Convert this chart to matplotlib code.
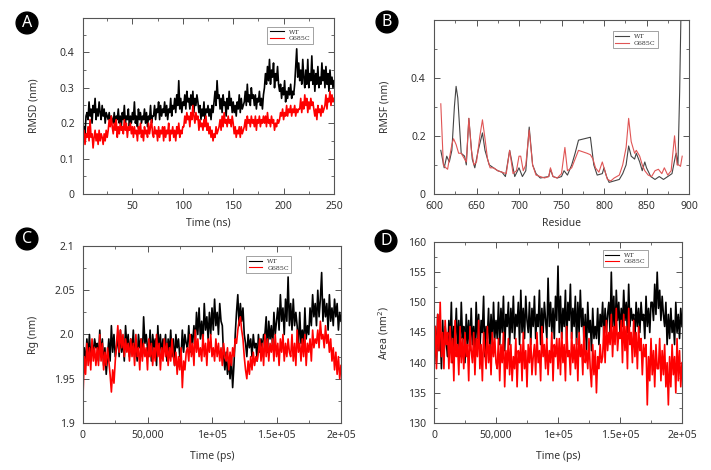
import numpy as np
import matplotlib
matplotlib.use('Agg')
import matplotlib.pyplot as plt
from matplotlib.ticker import MultipleLocator

plt.rcParams['font.family'] = ['Noto Sans', 'DejaVu Sans']
plt.rcParams['text.color'] = '#333333'
plt.rcParams['axes.labelcolor'] = '#333333'
plt.rcParams['xtick.color'] = '#555555'
plt.rcParams['ytick.color'] = '#555555'
plt.rcParams['xtick.labelcolor'] = '#333333'
plt.rcParams['ytick.labelcolor'] = '#333333'

# ---- panel A: RMSD (hundredths of nm), one sample per ns
rmsd_wt = np.array([
    15, 19, 17, 22,
    23, 21, 26, 22, 24, 20, 25, 23, 27, 21, 24, 22, 26, 23, 21, 25, 22, 24, 20, 23, 22,
    21, 23, 20, 22, 21,
    20, 23, 19, 22, 21, 24, 20, 22, 19, 23, 21, 25, 20, 22, 21, 24, 19, 22, 20, 23,
    21, 26, 20, 22, 19, 24, 21, 23, 20, 22, 21, 24, 20, 23, 19, 22, 21, 25, 20, 22,
    22, 25, 21, 24, 23, 26, 21, 25, 22, 24, 23, 26, 22, 25, 21, 24, 23, 27, 22, 25,
    24, 27, 23, 28, 25, 32, 24, 27, 23, 26,
    25, 28, 24, 29, 26, 27, 24, 28, 25, 29, 23, 27, 25, 28, 26,
    23, 25, 21, 24, 22, 26, 21, 24, 23, 25, 22, 24, 21, 25, 23,
    26, 29, 25, 32, 27, 28,
    24, 27, 23, 28, 25, 26, 22, 27, 24, 29, 25, 27, 23, 26,
    23, 25, 22, 26, 24, 28, 23, 27, 24, 25,
    26, 29, 25, 31, 26, 28, 25, 30, 27, 28,
    25, 28, 24, 27, 26, 29, 25, 27, 24, 28,
    30, 34, 31, 36, 32, 38, 31, 35, 33, 37, 30, 34, 32, 36, 31,
    29, 31, 27, 30, 28, 32, 26, 29, 27, 30, 28, 31, 27, 29, 28,
    31, 36, 41, 33, 37, 32, 35, 31, 38, 33,
    30, 35, 31, 38, 30, 34, 32, 39, 31, 35, 29, 34, 31, 36, 30,
    33, 31, 37, 32, 35, 30, 36, 31, 34, 29, 35, 31, 33, 30, 32]) / 100
rmsd_mut = np.array([
    15, 18, 14, 17, 16, 19, 15, 21, 16, 17, 13, 16, 18, 15, 17, 14, 18, 15, 17, 16, 14, 17, 15, 18, 16,
    18, 21, 19, 22, 19,
    17, 20, 18, 21, 16, 19, 17, 20, 18, 19, 17, 21, 18, 20, 16, 19, 18, 20, 17, 19,
    16, 19, 17, 18, 15, 19, 17, 20, 16, 18, 15, 19, 17, 18, 16, 20, 17, 19, 21, 17,
    16, 19, 17, 18, 15, 19, 16, 18, 17, 19,
    15, 19, 16, 18, 17, 20, 15, 18, 17, 19, 16, 18, 15, 19, 17, 20, 16, 18, 17, 19,
    19, 22, 20, 23, 21, 22, 19, 23, 21, 25, 22, 20, 23, 21, 22,
    18, 21, 19, 20, 18, 21, 19, 22, 18, 20,
    17, 19, 16, 18, 15, 17, 16, 19, 17, 18,
    19, 21, 18, 22, 19, 23, 20, 21, 19, 22, 20, 21, 19, 22, 20,
    17, 19, 16, 18, 17, 19, 16, 19, 17, 18,
    19, 21, 18, 22, 20, 21, 19, 22, 20, 21, 19, 22, 18, 21, 20, 22, 19, 21, 20, 22,
    20, 22, 19, 23, 20, 21, 19, 22, 20, 21, 18, 20, 19, 21, 20,
    21, 23, 22, 24, 21, 23, 22, 25, 22, 24, 23, 25, 22, 24, 23, 25, 22, 24, 23, 24,
    24, 27, 23, 26, 24, 28, 25, 27, 23, 26, 24, 27, 25, 26, 24,
    22, 24, 21, 25, 23, 24, 22, 25, 23, 24,
    25, 28, 24, 27, 26, 29, 25, 28, 26, 27]) / 100
rmsd_time = np.linspace(1, 250, len(rmsd_wt))

# ---- panel B: RMSF per residue
res_wt = [608, 612, 615, 618, 621, 624, 626, 628, 632, 636, 638, 641, 645, 648,
          652, 657, 660, 665, 670, 675, 680, 684, 689, 695, 700, 704, 708, 712,
          716, 720, 725, 735, 737, 740, 745, 750, 753, 757, 762, 766, 770, 784,
          788, 792, 798, 800, 803, 806, 812, 818, 822, 826, 829, 832, 836, 838,
          842, 845, 848, 850, 855, 860, 865, 870, 875, 880, 884, 885, 887, 889, 891]
rmsf_wt = [0.15, 0.09, 0.13, 0.11, 0.15, 0.30, 0.37, 0.33, 0.14, 0.13, 0.10, 0.26, 0.12, 0.09,
           0.15, 0.21, 0.15, 0.10, 0.09, 0.08, 0.075, 0.06, 0.15, 0.06, 0.09, 0.06, 0.08, 0.23,
           0.10, 0.07, 0.055, 0.06, 0.085, 0.06, 0.055, 0.06, 0.08, 0.065, 0.10, 0.14, 0.185, 0.195,
           0.10, 0.065, 0.07, 0.09, 0.06, 0.04, 0.045, 0.05, 0.07, 0.10, 0.165, 0.13, 0.12, 0.14,
           0.11, 0.08, 0.11, 0.09, 0.06, 0.05, 0.06, 0.05, 0.06, 0.07, 0.13, 0.14, 0.10, 0.35, 0.70]
res_mut = [608, 611, 614, 616, 618, 621, 623, 626, 629, 632, 636, 638, 641, 644,
           647, 650, 654, 657, 660, 663, 666, 670, 675, 680, 685, 689, 693, 697,
           700, 702, 705, 708, 712, 716, 720, 725, 730, 735, 737, 740, 745, 750,
           754, 757, 762, 766, 770, 780, 784, 787, 790, 794, 798, 800, 804, 808,
           812, 818, 822, 826, 829, 832, 836, 838, 842, 845, 848, 852, 856, 860,
           864, 868, 871, 875, 879, 883, 886, 888, 890, 892]
rmsf_mut = [0.31, 0.10, 0.09, 0.085, 0.12, 0.17, 0.19, 0.17, 0.14, 0.14, 0.12, 0.11, 0.26, 0.15,
            0.10, 0.11, 0.20, 0.255, 0.19, 0.12, 0.09, 0.09, 0.08, 0.075, 0.07, 0.15, 0.07, 0.08,
            0.13, 0.13, 0.08, 0.10, 0.22, 0.10, 0.065, 0.06, 0.055, 0.06, 0.09, 0.06, 0.055, 0.07,
            0.16, 0.08, 0.09, 0.12, 0.15, 0.14, 0.135, 0.12, 0.09, 0.075, 0.11, 0.09, 0.05, 0.045,
            0.055, 0.065, 0.10, 0.16, 0.26, 0.18, 0.14, 0.15, 0.13, 0.10, 0.08, 0.065, 0.06, 0.08,
            0.085, 0.07, 0.09, 0.065, 0.08, 0.20, 0.10, 0.10, 0.095, 0.13]

# ---- panel C: Rg (thousandths of nm), one sample per 1000 ps
rg_wt = np.array([
    1950, 1985, 1965, 1995, 1975, 2000, 1970, 1990, 1980, 1995, 1985,
    1990, 1970, 2005, 1975, 1995, 1965, 1985, 1955, 1975, 1995, 1970, 2010, 1980, 2000, 1975,
    1985, 2000, 1975, 2005, 1980, 1995, 1970, 2010, 1985, 2000, 1975, 1995, 1980, 2005, 1975,
    1990, 1970, 2000, 1985, 1995, 1975, 2020, 1990, 2000, 1985,
    1975, 2005, 1970, 2000, 1985, 1995, 1965, 2010, 1980, 2000, 1975, 1995, 1985, 2000, 1970,
    1995, 1980, 2005, 1975, 1995, 1965, 2000, 1985, 1995, 1975,
    1975, 2005, 1980, 2000, 1990, 1985, 2010, 1980, 2000, 1990,
    2010, 1990, 2025, 2000, 2030, 1995, 2015, 1990, 2035, 2005, 2020, 1995, 2025, 2000, 2030,
    2005, 2040, 2010, 2025, 2000, 2035, 2015, 2010,
    1975, 1960, 1980, 1955, 1970, 1950, 1975, 1940, 1965,
    2000, 2025, 2045, 2010, 2035, 2015, 2030, 2000,
    1990, 1975, 2000, 1985, 1995, 1975, 2000, 1985, 1990, 1970, 2000, 1980, 1995, 1985, 2000,
    2000, 2020, 1980, 2015, 1995, 2010, 1985, 2025, 2000, 2015,
    2030, 2005, 2045, 2015, 2030, 2000, 2040, 2015, 2065, 2010, 2035, 2005, 2040, 2010, 2025,
    2010, 1985, 2025, 1990, 2005, 1985, 2030, 1995, 2010, 2000,
    2030, 2010, 2045, 2020, 2035, 2010, 2050, 2020, 2040, 2070, 2015, 2040, 2020, 2035, 2005,
    2045, 2015, 2030, 2010, 2040, 2020, 2035, 2005, 2025, 2015]) / 1000
rg_mut = np.array([
    1930, 1975, 1955, 1990, 1965, 1985, 1960, 1995, 1970, 1985, 1965,
    1985, 1965, 2000, 1970, 1990, 1960, 1980, 1965, 1985, 1970,
    1955, 1935, 1960, 1945, 1970,
    1990, 2010, 1980, 2005, 1985, 2000, 1975, 1995, 1980, 1990,
    1970, 1995, 1975, 1990, 1965, 2000, 1975, 1985, 1960, 1995, 1970, 1990, 1975, 1985, 1960,
    1995, 1975, 1990, 1965, 1985, 1970, 2000, 1975, 1990, 1960, 1985, 1970, 1995, 1975, 1990,
    1965, 1985, 1970, 1995, 1975,
    1965, 1980, 1955, 1975, 1960, 1985, 1940, 1970, 1960, 1980,
    1985, 1970, 2000, 1975, 1990, 1965, 2005, 1980, 1995, 1975,
    1985, 1970, 2000, 1975, 1990, 1965, 1995, 1980, 2000, 1975,
    1985, 1970, 1995, 1975, 1990, 1970, 1985, 1965, 1990, 1975,
    1970, 1985, 1960, 1980, 1965, 1985, 1975, 1995, 1990, 2005,
    2015, 2020, 2005,
    1995, 1975, 1960, 1950, 1970, 1955, 1975, 1960, 1980, 1965, 1975, 1970,
    1980, 1995, 1970, 1990, 1965, 2000, 1975, 1995, 1970, 1990, 1980, 1995, 1970, 2000, 1975,
    1990, 1965, 1995, 1980, 2000, 1970, 1990, 1975, 1995, 1980,
    1975, 2000, 1970, 1990, 1965, 2005, 1980, 1990, 1970, 1995,
    1975, 2000, 1965, 1990, 1980, 1995, 1970, 2005, 1985, 1995,
    1990, 2005, 1985, 2015, 1995, 2000, 1985, 2010, 1990, 2000,
    1980, 1995, 1970, 1985, 1960, 1980, 1955, 1975, 1950, 1965]) / 1000
rg_time = np.linspace(0, 200000, len(rg_wt))

# ---- panel D: SASA (nm^2), one sample per 1000 ps
area_wt = [
    139, 146, 140, 148, 142, 145, 139, 147, 141, 146, 143,
    141, 147, 143, 150, 140, 146, 144, 149, 142, 147, 141, 150, 144, 146, 140, 148, 143, 147, 142, 149,
    143, 146, 141, 150, 144, 148, 142, 147, 145, 151, 141, 146, 144, 149, 142, 148, 143, 150, 144, 147,
    144, 150, 143, 149, 145, 151, 142, 148, 146, 150, 143, 149, 145, 151, 144, 148, 146, 150, 143, 152,
    145, 149, 144, 151, 147, 145, 150, 143, 149, 146, 151, 144, 148, 146, 152, 143, 149, 145, 150, 147,
    144, 154, 146, 150, 145, 149, 144, 151, 147, 156,
    145, 151, 144, 149, 146, 152, 143, 150, 147, 153, 144, 149, 146, 151, 143, 150, 145, 152, 146, 149,
    143, 148, 142, 150, 145, 147, 142, 149, 144, 146,
    144, 149, 143, 148, 146, 150, 144, 149, 145, 148,
    150, 145, 155, 146, 151, 144, 152, 147, 150, 145, 149, 146, 152, 147, 150, 145, 153, 146, 149, 147,
    148, 144, 150, 146, 149, 145, 150, 147, 148, 144, 151, 146, 149, 145, 150,
    150, 147, 153, 148, 155, 149, 152, 147, 151, 148,
    146, 150, 143, 148, 144, 149, 145, 147, 143, 150, 145, 148, 144, 149, 146]
area_mut = [
    140, 146, 139, 148, 142, 150, 141, 145, 139, 147, 143,
    145, 139, 146, 140, 144, 137, 147, 141, 143, 138, 146, 140, 144, 139, 145, 141, 143, 137, 146, 142,
    140, 145, 138, 144, 141, 147, 139, 143, 137, 145, 142, 139, 146, 140, 143, 138, 145, 141, 144, 140,
    139, 144, 137, 143, 140, 145, 136, 142, 139, 144, 138, 143, 137, 141, 139, 144, 136, 142, 140, 143,
    137, 145, 139, 142, 136, 143, 140, 144, 138, 141,
    143, 138, 145, 140, 142, 137, 146, 141, 143, 139, 144, 138, 142, 140, 145, 137, 143, 141, 144, 139,
    144, 138, 145, 140, 143, 137, 146, 141, 142, 138, 145, 140, 143, 139, 144, 137, 145, 141, 143, 138,
    146, 140, 142, 139, 144,
    139, 136, 143, 138, 142, 135, 141, 139, 143, 140,
    141, 146, 140, 147, 142, 145, 143, 148, 141, 146, 143, 149, 142, 145, 144,
    147, 140, 148, 142, 146, 139, 149, 143, 145, 140, 147, 141, 145, 139, 146, 142, 144, 138, 143, 141,
    143, 133, 141, 137, 144, 138, 142, 136, 143, 139,
    139, 144, 137, 142, 138, 143, 136, 140, 133, 141,
    136, 143, 138, 141, 135, 144, 137, 142, 136, 140]
area_time = np.linspace(0, 200000, len(area_wt))
area_time_mut = np.linspace(0, 200000, len(area_mut))

W, H = 711, 470
FS = 7.5
LW = 1.2
fig = plt.figure(figsize=(W / 100, H / 100), dpi=100)


def box(l, t, r, b):
    return [l / W, (H - b) / H, (r - l) / W, (b - t) / H]


def style(ax, ylab_x):
    for s in ax.spines.values():
        s.set_color('#555555')
        s.set_linewidth(0.8)
    ax.tick_params(which='both', direction='in', top=True, right=True, labelsize=FS)
    ax.tick_params(axis='x', pad=5)
    ax.tick_params(axis='y', pad=6)
    ax.tick_params(which='major', length=4, width=0.7)
    ax.tick_params(which='minor', length=2.5, width=0.6)
    ax.yaxis.set_label_coords(ylab_x, 0.5)


def legend(ax, x, y):
    leg = ax.legend(loc='upper left', bbox_to_anchor=(x, y), prop={'family': 'DejaVu Serif', 'size': 4.5},
                    frameon=True, fancybox=False, edgecolor='#777777', borderpad=0.4,
                    handlelength=2.2, handletextpad=0.8, labelspacing=0.2, borderaxespad=0)
    leg.get_frame().set_linewidth(0.6)
    for ln in leg.get_lines():
        ln.set_linewidth(0.8)


def badge(x, y, letter):
    fig.text(x / W, 1 - y / H, letter, ha='center', va='center', color='white', fontsize=11.5,
             fontweight='bold', bbox=dict(boxstyle='circle,pad=0.18', fc='black', ec='black'))


# A
ax = fig.add_axes(box(83, 18, 334, 194))
ax.plot(rmsd_time, rmsd_wt, color='black', lw=LW, label='WT')
ax.plot(np.linspace(1, 250, len(rmsd_mut)), rmsd_mut, color='#ff0000', lw=LW, label='G685C')
ax.set_xlim(1, 250)
ax.set_ylim(0, 0.497)
ax.set_xticks([50, 100, 150, 200, 250])
ax.xaxis.set_minor_locator(MultipleLocator(25))
ax.set_yticks([0, 0.1, 0.2, 0.3, 0.4])
ax.set_yticklabels(['0', '0.1', '0.2', '0.3', '0.4'])
ax.yaxis.set_minor_locator(MultipleLocator(0.05))
ax.set_xlabel('Time (ns)', fontsize=FS, labelpad=4)
ax.set_ylabel('RMSD (nm)', fontsize=FS)
style(ax, -0.175)
legend(ax, 0.735, 0.95)

# B
ax = fig.add_axes(box(434, 20, 689, 194))
ax.plot(res_wt, rmsf_wt, color='#444444', lw=0.8, label='WT')
ax.plot(res_mut, rmsf_mut, color='#e05555', lw=0.8, label='G685C')
ax.set_xlim(600, 900)
ax.set_ylim(0, 0.598)
ax.set_xticks([600, 650, 700, 750, 800, 850, 900])
ax.xaxis.set_minor_locator(MultipleLocator(25))
ax.set_yticks([0, 0.2, 0.4])
ax.set_yticklabels(['0', '0.2', '0.4'])
ax.yaxis.set_minor_locator(MultipleLocator(0.1))
ax.set_xlabel('Residue', fontsize=FS, labelpad=4)
ax.set_ylabel('RMSF (nm)', fontsize=FS)
style(ax, -0.169)
legend(ax, 0.70, 0.935)

# C
ax = fig.add_axes(box(83, 246, 341, 423))
ax.plot(rg_time, rg_wt, color='black', lw=LW, label='WT')
ax.plot(np.linspace(0, 200000, len(rg_mut)), rg_mut, color='#ff0000', lw=LW, label='G685C')
ax.set_xlim(0, 200000)
ax.set_ylim(1.9, 2.1)
ax.set_xticks([0, 50000, 100000, 150000, 200000])
ax.set_xticklabels(['0', '50,000', '1e+05', '1.5e+05', '2e+05'])
ax.xaxis.set_minor_locator(MultipleLocator(25000))
ax.set_yticks([1.9, 1.95, 2.0, 2.05, 2.1])
ax.set_yticklabels(['1.9', '1.95', '2.0', '2.05', '2.1'])
ax.yaxis.set_minor_locator(MultipleLocator(0.025))
ax.set_xlabel('Time (ps)', fontsize=FS, labelpad=7)
ax.set_ylabel('Rg (nm)', fontsize=FS)
style(ax, -0.171)
legend(ax, 0.632, 0.943)

# D
ax = fig.add_axes(box(434, 242, 682, 423))
ax.plot(area_time, area_wt, color='black', lw=LW, label='WT')
ax.plot(area_time_mut, area_mut, color='#ff0000', lw=LW, label='G685C')
ax.set_xlim(0, 200000)
ax.set_ylim(130, 160)
ax.set_xticks([0, 50000, 100000, 150000, 200000])
ax.set_xticklabels(['0', '50,000', '1e+05', '1.5e+05', '2e+05'])
ax.xaxis.set_minor_locator(MultipleLocator(25000))
ax.set_yticks([130, 135, 140, 145, 150, 155, 160])
ax.yaxis.set_minor_locator(MultipleLocator(2.5))
ax.set_xlabel('Time (ps)', fontsize=FS, labelpad=7)
ax.set_ylabel('Area (nm$^2$)', fontsize=FS)
style(ax, -0.173)
legend(ax, 0.68, 0.956)

badge(27, 23, 'A')
badge(387, 22, 'B')
badge(27, 239, 'C')
badge(386, 241, 'D')

fig.savefig('out.png', dpi=100)
